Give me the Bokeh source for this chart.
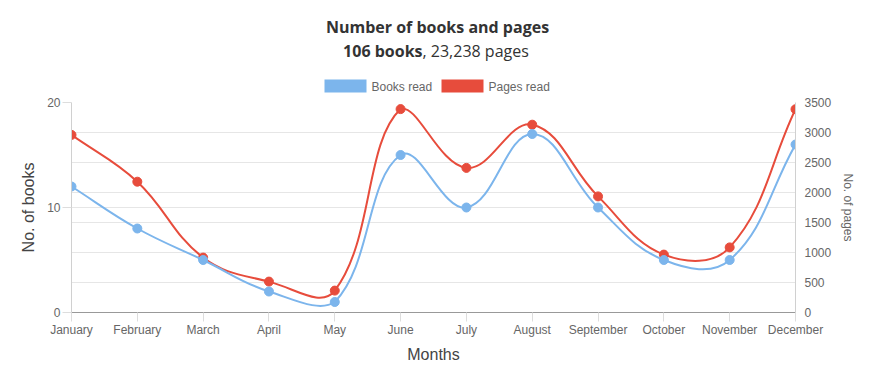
import numpy as np
from bokeh.plotting import figure
from bokeh.layouts import column
from bokeh.models import Range1d, LinearAxis, FixedTicker, Grid, Label
from bokeh.embed import file_html
from bokeh.resources import INLINE

# ---------------- data ----------------
months = ["January", "February", "March", "April", "May", "June", "July",
          "August", "September", "October", "November", "December"]
books = [12, 8, 5, 2, 1, 15, 10, 17, 10, 5, 5, 16]
pages = [2960, 2180, 915, 515, 365, 3390, 2410, 3130, 1935, 965, 1085, 3388]
books_ticks = [0, 10, 20]
pages_ticks = [0, 500, 1000, 1500, 2000, 2500, 3000, 3500]
title_text = "Number of books and pages"
subtitle_bold = "106 books"
subtitle_rest = ", 23,238 pages"
series_names = ["Books read", "Pages read"]
x_title = "Months"
y_title = "No. of books"
y2_title = "No. of pages"

# ---------------- style ----------------
BLUE = "#7cb5ec"
RED = "#e74c3c"
GRID = "#e6e6e6"
W = 864
HEAD_H = 94
L, R, T, B = 71, 69, 8, 66
FW = W - L - R          # 724
FH = 210
H = T + FH + B
TENSION = 0.4

n = len(months)
xs = list(range(n))
bmax = books_ticks[-1]
pmax = pages_ticks[-1]


def spline_segments(vals, vmax):
    """Chart.js style bezier control points (computed in pixel space)."""
    px = [i * FW / (n - 1) for i in range(n)]
    py = [FH - v / vmax * FH for v in vals]
    prev_c, next_c = [], []
    for i in range(n):
        a = max(i - 1, 0)
        c = i
        b = min(i + 1, n - 1)
        d01 = np.hypot(px[c] - px[a], py[c] - py[a])
        d12 = np.hypot(px[b] - px[c], py[b] - py[c])
        tot = d01 + d12
        s01 = d01 / tot if tot else 0
        s12 = d12 / tot if tot else 0
        fa, fb = TENSION * s01, TENSION * s12
        pcx = px[c] - fa * (px[b] - px[a])
        pcy = py[c] - fa * (py[b] - py[a])
        ncx = px[c] + fb * (px[b] - px[a])
        ncy = py[c] + fb * (py[b] - py[a])
        pcy = min(max(pcy, 0), FH)
        ncy = min(max(ncy, 0), FH)
        prev_c.append((pcx, pcy))
        next_c.append((ncx, ncy))

    def tx(v):
        return v / FW * (n - 1)

    def ty(v):
        return (FH - v) / FH * vmax

    seg = dict(x0=[], y0=[], x1=[], y1=[], cx0=[], cy0=[], cx1=[], cy1=[])
    for i in range(n - 1):
        seg["x0"].append(xs[i]); seg["y0"].append(vals[i])
        seg["x1"].append(xs[i + 1]); seg["y1"].append(vals[i + 1])
        seg["cx0"].append(tx(next_c[i][0])); seg["cy0"].append(ty(next_c[i][1]))
        seg["cx1"].append(tx(prev_c[i + 1][0])); seg["cy1"].append(ty(prev_c[i + 1][1]))
    return seg


# ---------------- header (title, subtitle, legend) ----------------
# the column layout aligns this frame with the chart frame (x 71..795)
hd = figure(width=W, height=HEAD_H, output_backend="svg", toolbar_location=None,
            x_range=Range1d(L, L + FW), y_range=Range1d(HEAD_H, 0),
            x_axis_type=None, y_axis_type=None, outline_line_color=None,
            min_border=0, min_border_left=L, min_border_right=R,
            min_border_top=0, min_border_bottom=0)
hd.grid.visible = False

hd.add_layout(Label(x=437, y=26, text=title_text, text_align="center",
                    text_baseline="middle", text_font="Open Sans",
                    text_font_style="bold", text_font_size="16px",
                    text_color="#333333"))
hd.add_layout(Label(x=422, y=50, text=subtitle_bold, text_align="right",
                    text_baseline="middle", text_font="Open Sans",
                    text_font_style="bold", text_font_size="16px",
                    text_color="#333333"))
hd.add_layout(Label(x=422, y=50, text=subtitle_rest, text_align="left",
                    text_baseline="middle", text_font="Open Sans",
                    text_font_style="normal", text_font_size="16px",
                    text_color="#333333"))

# legend (swatch + label per series)
legend_x = [324, 441]
for name, col, lx in zip(series_names, [BLUE, RED], legend_x):
    hd.quad(left=[lx], right=[lx + 42], top=[79], bottom=[92],
            fill_color=col, line_color=None)
    hd.add_layout(Label(x=lx + 47, y=86, text=name, text_align="left",
                        text_baseline="middle", text_font="Liberation Sans",
                        text_font_size="12px", text_color="#666666"))

# ---------------- main chart ----------------
p = figure(width=W, height=H, output_backend="svg", toolbar_location=None,
           x_range=Range1d(0, n - 1), y_range=Range1d(0, bmax),
           min_border_left=L, min_border_right=R, min_border_top=T,
           min_border_bottom=B, outline_line_color=None)
p.extra_y_ranges = {"pages": Range1d(0, pmax)}

p.xaxis.ticker = FixedTicker(ticks=xs)
p.xaxis.major_label_overrides = {i: m for i, m in enumerate(months)}
p.yaxis.ticker = FixedTicker(ticks=books_ticks)
for ax in (p.xaxis[0], p.yaxis[0]):
    ax.major_label_text_font = "Liberation Sans"
    ax.major_label_text_font_size = "12px"
    ax.major_label_text_color = "#666666"
    ax.minor_tick_line_color = None
    ax.major_tick_in = 0
    ax.major_tick_out = 9
    ax.major_tick_line_color = "#dddddd"
    ax.axis_label_text_font = "Liberation Sans"
    ax.axis_label_text_font_size = "16px"
    ax.axis_label_text_font_style = "normal"
    ax.axis_label_text_color = "#444444"
p.xaxis.axis_label = x_title
p.xaxis.axis_line_color = "#999999"
p.xaxis.major_label_standoff = 1
p.xaxis.axis_label_standoff = 6
p.yaxis.axis_label = y_title
p.yaxis.axis_line_color = "#d0d0d0"
p.yaxis.major_label_standoff = 2
p.yaxis.axis_label_standoff = 7

ax2 = LinearAxis(y_range_name="pages", ticker=FixedTicker(ticks=pages_ticks),
                 axis_label=y2_title)
ax2.major_label_text_font = "Liberation Sans"
ax2.major_label_text_font_size = "12px"
ax2.major_label_text_color = "#666666"
ax2.minor_tick_line_color = None
ax2.major_tick_in = 0
ax2.major_tick_out = 0
ax2.major_label_standoff = 9
ax2.axis_line_color = "#d0d0d0"
ax2.axis_label_text_font = "Liberation Sans"
ax2.axis_label_text_font_size = "12px"
ax2.axis_label_text_font_style = "normal"
ax2.axis_label_text_color = "#666666"
ax2.axis_label_standoff = 7
p.add_layout(ax2, "right")

p.xgrid.grid_line_color = None
p.ygrid.grid_line_color = GRID
p.ygrid.ticker = FixedTicker(ticks=books_ticks)
g2 = Grid(dimension=1, ticker=FixedTicker(ticks=pages_ticks), y_range_name="pages",
          grid_line_color=GRID)
p.add_layout(g2)

ps = spline_segments(pages, pmax)
p.bezier(y_range_name="pages", line_color=RED, line_width=2, **ps)
p.scatter(xs, pages, y_range_name="pages", size=9, color=RED)
bs = spline_segments(books, bmax)
p.bezier(line_color=BLUE, line_width=2, **bs)
p.scatter(xs, books, size=9, color=BLUE)

layout = column(hd, p, spacing=0)
open("out.html", "w").write(file_html(layout, INLINE))
